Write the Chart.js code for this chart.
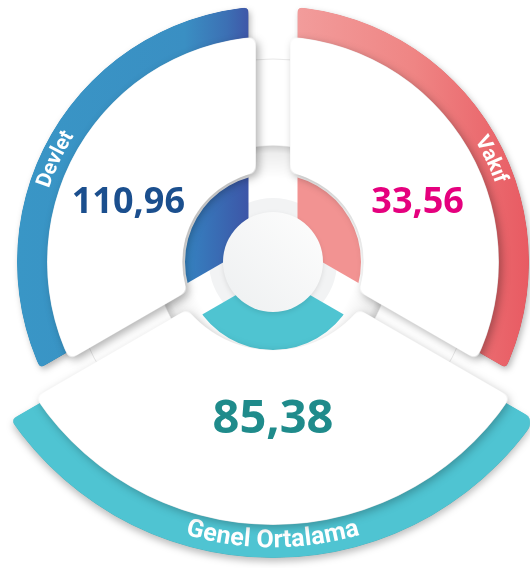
<!DOCTYPE html>
<html lang="tr">
<head>
<meta charset="utf-8">
<script src="https://cdn.jsdelivr.net/npm/chart.js@4.4.1/dist/chart.umd.min.js"></script>
<style>
html, body { margin: 0; padding: 0; background: #fff; }
#stage { position: relative; width: 530px; height: 568px; overflow: hidden; }
#stage canvas { position: absolute; left: 0; top: 0; }
</style>
</head>
<body>
<div id="stage">
  <canvas id="bands" width="530" height="568"></canvas>
  <canvas id="genelBand" width="530" height="568"></canvas>
  <canvas id="hub" width="530" height="568"></canvas>
  <canvas id="cards" width="530" height="568"></canvas>
  <canvas id="genelCard" width="530" height="568"></canvas>
</div>
<script>
const categories = ['Devlet', 'Vakıf', 'Genel Ortalama'];
const scores = [110.96, 33.56, 85.38];
const shares = [1, 1, 1];   // three equal sectors

const TAU = Math.PI * 2;
const CLEAR = 'rgba(0,0,0,0)';
const scoreColors = ['#1b4f8e', '#e5007e', '#1f8b8b'];

hGrad = (c, x0, x1, stops) => {
    const g = c.createLinearGradient(x0, 0, x1, 0);
    stops.forEach(s => g.addColorStop(s[0], s[1]));
    return g;
}

const bandPaint = [
    c => hGrad(c, 17, 250, [[0, '#3996c6'], [0.72, '#3a8fc3'], [0.9, '#3c70b4'], [1, '#3f55a7']]),
    c => hGrad(c, 298, 530, [[0, '#f29c9b'], [0.5, '#ef8584'], [1, '#e85a62']]),
    c => '#4fc4d2'
];
const ringPaint = [
    c => hGrad(c, 185, 249, [[0, '#3583c1'], [1, '#3d55a7']]),
    c => '#f29392',
    c => '#4fc4d1'
];
const cardPaint = [c => '#fff', c => '#fff', c => '#fff'];

// the overall average sector is drawn larger, so it gets its own centre
const MAIN = {left: 16, right: 0, top: 0, bottom: 44};
const GENEL = {left: 16, right: 0, top: 0, bottom: 88};

// inset = how far each sector's straight edges sit back from the boundary ray
const layers = {
    bands: {padding: MAIN, radius: 256, cutout: '80%', show: [0, 1], paint: bandPaint, inset: [24.5, 24.5, 24.5],
        round: 2.5, shadow: {color: 'rgba(0,0,0,0.28)', blur: 6, x: 2, y: 3},
        bandText: {r: 241, font: 'bold 21px Roboto'}},
    genelBand: {padding: GENEL, radius: 318, cutout: '84%', show: [2], paint: bandPaint, inset: [24.5, 24.5, 24.5],
        round: 3, shadow: {color: 'rgba(0,0,0,0.25)', blur: 7, x: 0, y: 4},
        bandText: {r: 301, font: 'bold 25px Roboto'}},
    hub: {padding: MAIN, radius: 88, cutout: '45%', show: [0, 1, 2], paint: ringPaint, inset: [24.5, 24.5, 10], hub: true},
    cards: {padding: MAIN, radius: 226, cutout: '40%', show: [0, 1], paint: cardPaint, inset: [17, 17, 17],
        round: 4, shadow: {color: 'rgba(0,0,0,0.3)', blur: 8, x: 3, y: 3},
        values: {r: 167, dy: 24, font: 'bold 36px "Open Sans"'}},
    genelCard: {padding: GENEL, radius: 285, cutout: '38.6%', show: [2], paint: cardPaint, inset: [17, 17, 17],
        round: 4, shadow: {color: 'rgba(0,0,0,0.25)', blur: 8, x: 2, y: 3},
        values: {r: 156, dy: 24, font: 'bold 47px "Open Sans"'}}
};

// soften the sharp corners left by the gap cuts: blur the shape, keep what stays over half cover
roundCorners = (chart, sigma) => {
    const c = chart.canvas;
    const m = document.createElement('canvas');
    m.width = c.width;
    m.height = c.height;
    const mc = m.getContext('2d');
    mc.filter = `blur(${sigma}px)`;
    mc.drawImage(c, 0, 0);
    const img = mc.getImageData(0, 0, m.width, m.height);
    const d = img.data;
    for (let i = 3; i < d.length; i += 4) {
        d[i] = Math.max(0, Math.min(255, (d[i] - 128) * 6 + 128));
    }
    mc.putImageData(img, 0, 0);
    const ctx = chart.ctx;
    ctx.save();
    ctx.setTransform(1, 0, 0, 1, 0, 0);
    ctx.globalCompositeOperation = 'destination-in';
    ctx.drawImage(m, 0, 0);
    ctx.restore();
}

castShadow = (chart, s) => {
    const src = document.createElement('canvas');
    src.width = chart.canvas.width;
    src.height = chart.canvas.height;
    src.getContext('2d').drawImage(chart.canvas, 0, 0);
    const ctx = chart.ctx;
    ctx.save();
    ctx.setTransform(1, 0, 0, 1, 0, 0);
    ctx.globalCompositeOperation = 'destination-over';
    ctx.shadowColor = s.color;
    ctx.shadowBlur = s.blur;
    ctx.shadowOffsetX = s.x;
    ctx.shadowOffsetY = s.y;
    ctx.drawImage(src, 0, 0);
    ctx.restore();
}

drawHub = (ctx, x, y) => {
    ctx.save();
    ctx.globalCompositeOperation = 'destination-over';
    // faint rim of the backing plate, only seen between the cards
    ctx.strokeStyle = 'rgba(0,0,0,0.09)';
    ctx.lineWidth = 1;
    ctx.beginPath(); ctx.arc(x, y, 203, 0, TAU); ctx.stroke();
    // shaded well the cards stand in
    const well = ctx.createRadialGradient(x, y, 84, x, y, 117);
    well.addColorStop(0, 'rgba(0,0,0,0)');
    well.addColorStop(0.75, 'rgba(0,0,0,0.07)');
    well.addColorStop(0.96, 'rgba(0,0,0,0.18)');
    well.addColorStop(1, 'rgba(0,0,0,0.03)');
    ctx.fillStyle = well;
    ctx.beginPath(); ctx.arc(x, y, 117, 0, TAU); ctx.fill();
    // pale collar round the hub
    ctx.fillStyle = '#f2f3f4';
    ctx.beginPath(); ctx.arc(x, y, 64, 0, TAU); ctx.fill();
    ctx.globalCompositeOperation = 'source-over';
    ctx.shadowColor = 'rgba(0,0,0,0.1)';
    ctx.shadowBlur = 5;
    ctx.shadowOffsetY = 2;
    const g = ctx.createLinearGradient(x - 40, y + 40, x + 40, y - 40);
    g.addColorStop(0, '#eff1f2');
    g.addColorStop(1, '#fcfcfc');
    ctx.fillStyle = g;
    ctx.beginPath(); ctx.arc(x, y, 50, 0, TAU); ctx.fill();
    ctx.restore();
}

arcText = (ctx, text, cx, cy, r, mid, font) => {
    ctx.save();
    ctx.font = font;
    ctx.fillStyle = '#fff';
    ctx.textAlign = 'center';
    ctx.textBaseline = 'middle';
    const dir = Math.sin(mid) > 0.5 ? -1 : 1;   // bottom label reads anticlockwise
    const total = ctx.measureText(text).width;
    let a = mid - dir * total / (2 * r);
    for (const ch of text) {
        const w = ctx.measureText(ch).width;
        const ca = a + dir * w / (2 * r);
        ctx.save();
        ctx.translate(cx + r * Math.cos(ca), cy + r * Math.sin(ca));
        ctx.rotate(ca + dir * Math.PI / 2);
        ctx.fillText(ch, 0, 0);
        ctx.restore();
        a += dir * w / r;
    }
    ctx.restore();
}

const layerFx = {
    id: 'layerFx',
    afterDatasetsDraw(chart) {
        const cfg = layers[chart.canvas.id];
        const ctx = chart.ctx;
        const arcs = chart.getDatasetMeta(0).data;
        const n = arcs.length;
        const cx = arcs[0].x, cy = arcs[0].y;
        // straight-sided gaps along every sector boundary
        ctx.save();
        ctx.globalCompositeOperation = 'destination-out';
        arcs.forEach((a, i) => {
            const before = cfg.inset[(i + n - 1) % n];
            ctx.save();
            ctx.translate(cx, cy);
            ctx.rotate(a.startAngle);
            ctx.fillRect(0, -before, 800, before + cfg.inset[i]);
            ctx.restore();
        });
        ctx.restore();
        if (cfg.round) roundCorners(chart, cfg.round);
        if (cfg.hub) drawHub(ctx, cx, cy);
        if (cfg.shadow) castShadow(chart, cfg.shadow);
        cfg.show.forEach(i => {
            const a = arcs[i];
            const mid = (a.startAngle + a.endAngle) / 2;
            if (cfg.bandText) {
                // side labels sit a little below the middle of their band
                const droop = 5.5 * Math.PI / 180 * Math.cos(mid);
                arcText(ctx, categories[i], cx, cy, cfg.bandText.r, mid + droop, cfg.bandText.font);
            }
            if (cfg.values) {
                ctx.save();
                ctx.font = cfg.values.font;
                ctx.fillStyle = scoreColors[i];
                ctx.textAlign = 'center';
                ctx.textBaseline = 'middle';
                ctx.fillText(scores[i].toFixed(2).replace('.', ','),
                    cx + Math.cos(mid) * cfg.values.r,
                    cy + Math.sin(mid) * cfg.values.r + cfg.values.dy);
                ctx.restore();
            }
        });
    }
};

Object.keys(layers).forEach(id => {
    const cfg = layers[id];
    new Chart(document.getElementById(id), {
        type: 'doughnut',
        data: {
            labels: categories,
            datasets: [{
                data: shares,
                borderWidth: 0,
                clip: false,
                backgroundColor: (c) => {
                    if (c.type !== 'data' || !cfg.show.includes(c.dataIndex)) return CLEAR;
                    return cfg.paint[c.dataIndex](c.chart.ctx);
                }
            }]
        },
        options: {
            responsive: false,
            animation: false,
            events: [],
            rotation: -120,
            radius: cfg.radius,
            cutout: cfg.cutout,
            layout: {padding: cfg.padding},
            plugins: {
                legend: {display: false},
                tooltip: {enabled: false}
            }
        },
        plugins: [layerFx]
    });
});
</script>
</body>
</html>
